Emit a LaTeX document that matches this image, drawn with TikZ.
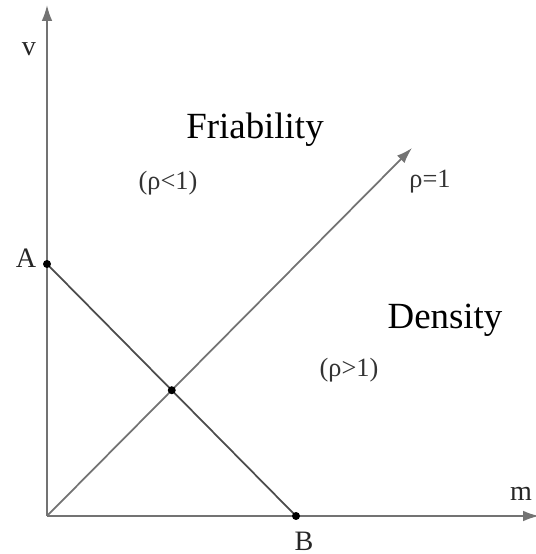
\documentclass[tikz,border=0pt]{standalone}
\usepackage{fontspec}
\setmainfont{Liberation Serif}
\usetikzlibrary{arrows.meta}
\tikzset{
	axis/.style={line width=1pt, black!55},
	region/.style={font=\fontsize{21}{24}\selectfont},
	ratio/.style={font=\fontsize{15}{18}\selectfont, text=black!80},
	pointlabel/.style={font=\fontsize{16}{18}\selectfont, text=black!85},
}
\begin{document}
\begin{tikzpicture}[x=0.02cm, y=0.02cm, >={Latex[length=9pt,width=6pt]}]
		\useasboundingbox (0,0) rectangle (536,554);
		% points
		\coordinate (O) at (47,38);
		\coordinate (A) at (47,290);
		\coordinate (B) at (296,38);
		\coordinate (vtop) at (47,549);
		\coordinate (mtip) at (539,38);
		\coordinate (ptip) at (412,406);
		\draw[->, axis] (O) -- (vtop);
		\draw[->, axis] (O) -- (mtip);
		\draw[->, axis] (O) -- (ptip);
		\draw[line width=1pt, black!70] (A) -- (B);
		\coordinate (X) at (intersection of O--ptip and A--B);
		\foreach \p in {A, B, X} {
				\fill (\p) circle (4);
			}
		% labels
		\node[pointlabel] (vlab) at (29,505) {v};
		\node[pointlabel] (mlab) at (521,60) {m};
		\node[pointlabel] (Alab) at (26,296) {A};
		\node[pointlabel] (Blab) at (304,13) {B};
		\node[region] (friab) at (255,424) {Friability};
		\node[region] (dens) at (445,234) {Density};
		\node[ratio] (less) at (168,371) {(ρ<1)};
		\node[ratio] (more) at (349,184) {(ρ>1)};
		\node[ratio] (equal) at (430,372) {ρ=1};
	\end{tikzpicture}
\end{document}
